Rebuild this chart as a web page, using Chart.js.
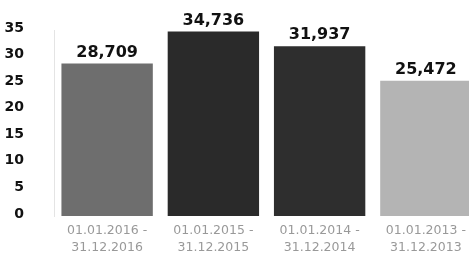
<!DOCTYPE html>
<html>
<head>
<meta charset="utf-8">
<script src="https://cdn.jsdelivr.net/npm/chart.js@4.4.1/dist/chart.umd.min.js"></script>
<style>
  html, body { margin: 0; padding: 0; background: #fff; overflow: hidden; }
  #wrap { width: 480px; height: 253px; position: relative; }
</style>
</head>
<body>
<div id="wrap"><canvas id="chart"></canvas></div>
<script>
// Periods (two-line labels)
const periods = [
  ['01.01.2016 -', '31.12.2016'],
  ['01.01.2015 -', '31.12.2015'],
  ['01.01.2014 -', '31.12.2014'],
  ['01.01.2013 -', '31.12.2013']
];
const values = [28.709, 34.736, 31.937, 25.472];
const barColors = ['#6e6e6e', '#2a2a2a', '#2e2e2e', '#b4b4b4'];
const yTicks = [0, 5, 10, 15, 20, 25, 30, 35];

// Draw value labels above each bar
const valueLabels = {
  id: 'valueLabels',
  afterDatasetsDraw(chart) {
    const ctx = chart.ctx;
    const meta = chart.getDatasetMeta(0);
    ctx.save();
    ctx.font = 'bold 16px "DejaVu Sans", sans-serif';
    ctx.fillStyle = '#111';
    ctx.textAlign = 'center';
    ctx.textBaseline = 'bottom';
    meta.data.forEach((bar, i) => {
      const txt = values[i].toFixed(3).replace('.', ',');
      ctx.fillText(txt, bar.x, bar.y - 3);
    });
    ctx.restore();
  }
};

new Chart(document.getElementById('chart'), {
  type: 'bar',
  data: {
    labels: periods,
    datasets: [{
      data: values,
      backgroundColor: barColors,
      borderWidth: 0,
      categoryPercentage: 0.86,
      barPercentage: 1.0
    }]
  },
  options: {
    responsive: true,
    maintainAspectRatio: false,
    animation: false,
    layout: { padding: { top: 30, right: 1, left: 0, bottom: 0 } },
    plugins: { legend: { display: false }, tooltip: { enabled: false } },
    scales: {
      x: {
        grid: { display: false, drawTicks: false },
        border: { display: false },
        afterFit(scale) { scale.height = 37; },
        ticks: {
          padding: 6,
          color: '#999',
          font: { family: '"DejaVu Sans", sans-serif', size: 12.5, lineHeight: 1.35 },
          maxRotation: 0,
          autoSkip: false
        }
      },
      y: {
        min: 0,
        max: 35,
        afterFit(scale) {
          scale.width = 54;
          // tick padding would otherwise also pad top/bottom of the plot
          scale.paddingTop = 0;
          scale.paddingBottom = 0;
        },
        afterBuildTicks(scale) { scale.ticks = yTicks.map(v => ({ value: v })); },
        grid: { display: false, drawTicks: false },
        border: { display: true, color: '#e4e4e4', dash: [1, 4] },
        ticks: {
          padding: 30,
          labelOffset: -2,
          color: '#111',
          font: { family: '"DejaVu Sans", sans-serif', size: 14, weight: 'bold' }
        }
      }
    }
  },
  plugins: [valueLabels]
});
</script>
</body>
</html>
